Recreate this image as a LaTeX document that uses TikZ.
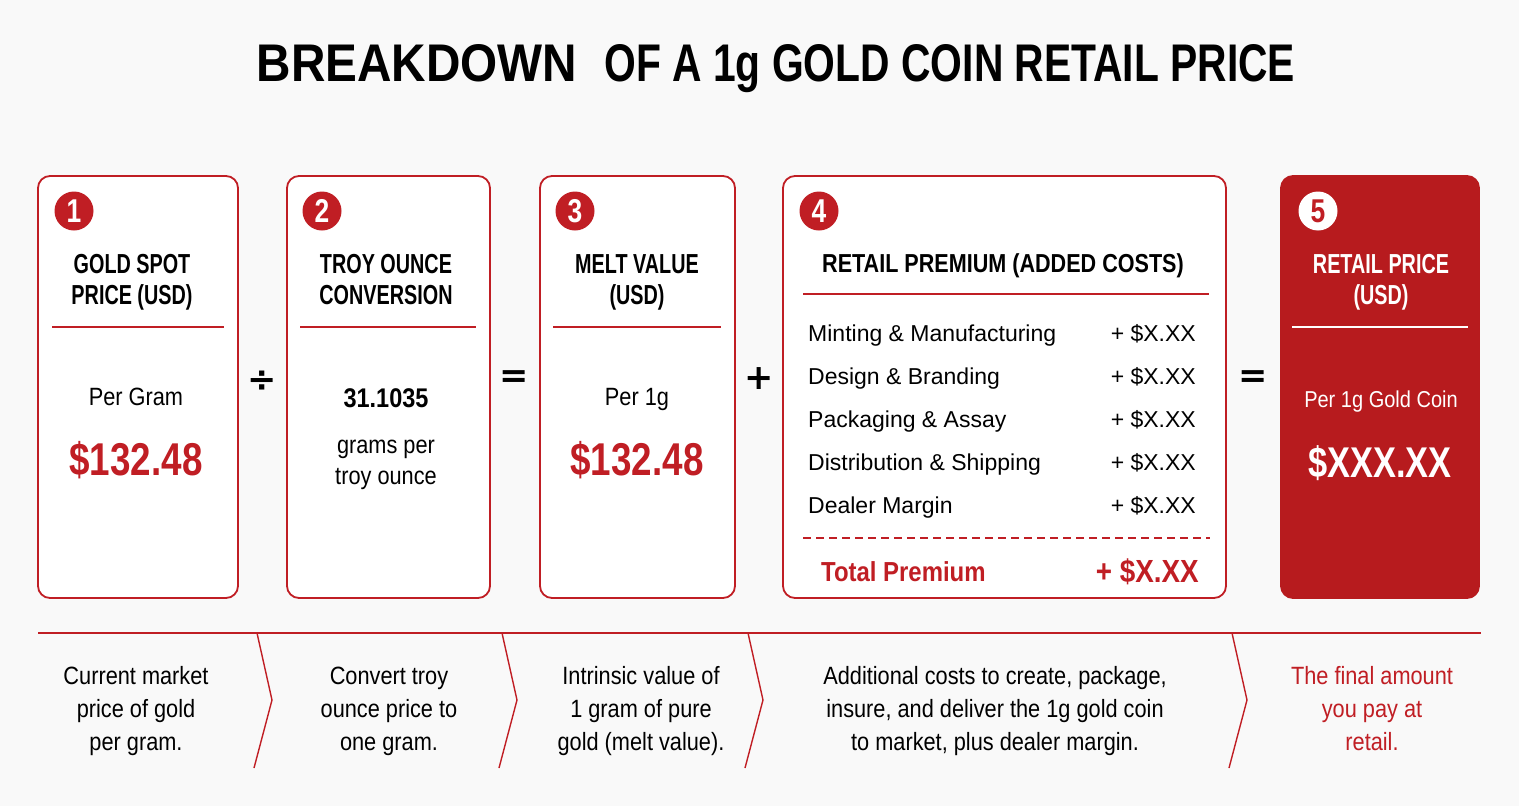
\documentclass[tikz,border=0pt]{standalone}
\usepackage{fontspec}
\setmainfont{Liberation Sans}
\newfontfamily\fT[FakeStretch=0.80]{Liberation Sans}
\newfontfamily\fW[FakeStretch=0.90]{Liberation Sans}
\newfontfamily\fV[FakeStretch=0.77]{Liberation Sans}
\newfontfamily\fU[FakeStretch=0.83]{Liberation Sans}
\newfontfamily\fH[FakeStretch=0.72]{Liberation Sans}
\newfontfamily\fP[FakeStretch=0.80]{Liberation Sans}
\newfontfamily\fB[FakeStretch=0.87]{Liberation Sans}
\newfontfamily\fL{Liberation Sans}
\newfontfamily\fS{DejaVu Sans}
\definecolor{cred}{RGB}{192,30,36}
\definecolor{cfill}{RGB}{183,27,30}
\definecolor{bg}{RGB}{249,249,249}
\begin{document}
\begin{tikzpicture}[x=1pt,y=-1pt,
  card/.style={draw=cred, line width=1.8pt, rounded corners=12pt, fill=white, inner sep=0pt},
  badge/.style={circle, fill=cred, minimum size=39pt, inner sep=0pt, text=white, font=\fT\bfseries\fontsize{33}{33}\selectfont},
  ttl/.style={anchor=base, inner sep=0pt, font=\fH\bfseries\fontsize{27.5}{30}\selectfont},
  body/.style={anchor=base, inner sep=0pt, font=\fB\fontsize{25}{30}\selectfont},
  price/.style={anchor=base, inner sep=0pt, text=cred, font=\fP\bfseries\fontsize{46}{50}\selectfont},
  item/.style={anchor=base west, inner sep=0pt, font=\fL\fontsize{23}{28}\selectfont},
  val/.style={anchor=base east, inner sep=0pt, font=\fL\fontsize{23}{28}\selectfont},
  desc/.style={anchor=base, inner sep=0pt, font=\fB\fontsize{25}{30}\selectfont},
  op/.style={inner sep=0pt, font=\fS\bfseries\fontsize{35}{35}\selectfont},
  sep/.style={cred, line width=1.8pt},
  thin/.style={cred, line width=1.4pt}
]
\fill[bg] (0,0) rectangle (1519,806);

% title
\node[anchor=base, inner sep=0pt, font=\bfseries\fontsize{53}{60}\selectfont] (title) at (776,81)
  {{\fW\bfseries BREAKDOWN}\hspace{27pt}{\fV\bfseries OF A 1g GOLD COIN RETAIL PRICE}};

% cards
\node[card, minimum width=200pt, minimum height=422pt] (c1) at (138,387) {};
\node[card, minimum width=203pt, minimum height=422pt] (c2) at (388.5,387) {};
\node[card, minimum width=195pt, minimum height=422pt] (c3) at (637.5,387) {};
\node[card, minimum width=443pt, minimum height=422pt] (c4) at (1004.5,387) {};
\node[card, fill=cfill, draw=cfill, minimum width=198pt, minimum height=422pt] (c5) at (1380,387) {};

% badges
\node[badge] (b1) at (74,211) {1};
\node[badge] (b2) at (322,211) {2};
\node[badge] (b3) at (575,211) {3};
\node[badge] (b4) at (819,211) {4};
\node[badge, fill=white, text=cred] (b5) at (1318,211) {5};

% card 1
\node[ttl] (t1a) at (132,273) {GOLD SPOT};
\node[ttl] (t1b) at (132,304) {PRICE (USD)};
\draw[sep] (52,327) -- (224,327);
\node[body] (p1) at (136,405) {Per Gram};
\node[price] (v1) at (136,475) {\$132.48};

% card 2
\node[ttl] (t2a) at (386,273) {TROY OUNCE};
\node[ttl] (t2b) at (386,304) {CONVERSION};
\draw[sep] (300,327) -- (476,327);
\node[body, font=\fB\bfseries\fontsize{27}{30}\selectfont] (p2) at (386,407) {31.1035};
\node[body] (g2a) at (386,453) {grams per};
\node[body] (g2b) at (386,484) {troy ounce};

% card 3
\node[ttl] (t3a) at (637,273) {MELT VALUE};
\node[ttl] (t3b) at (637,304) {(USD)};
\draw[sep] (553,327) -- (721,327);
\node[body] (p3) at (637,405) {Per 1g};
\node[price] (v3) at (637,475) {\$132.48};

% card 4
\node[ttl, font=\fU\bfseries\fontsize{26}{30}\selectfont] (t4) at (1003,272) {RETAIL PREMIUM (ADDED COSTS)};
\draw[sep] (803,294) -- (1209,294);
\node[item] (i1) at (808,341) {Minting \& Manufacturing};
\node[item] (i2) at (808,384) {Design \& Branding};
\node[item] (i3) at (808,427) {Packaging \& Assay};
\node[item] (i4) at (808,470) {Distribution \& Shipping};
\node[item] (i5) at (808,513) {Dealer Margin};
\node[val] (x1) at (1196,341) {+ \$X.XX};
\node[val] (x2) at (1196,384) {+ \$X.XX};
\node[val] (x3) at (1196,427) {+ \$X.XX};
\node[val] (x4) at (1196,470) {+ \$X.XX};
\node[val] (x5) at (1196,513) {+ \$X.XX};
\draw[sep, dash pattern=on 8pt off 5pt] (803,538) -- (1210,538);
\node[item, text=cred, font=\fB\bfseries\fontsize{27.5}{30}\selectfont] (tp) at (821,581) {Total Premium};
\node[val, text=cred, font=\fB\bfseries\fontsize{32}{32}\selectfont] (tv) at (1199,582) {+ \$X.XX};

% card 5
\node[ttl, text=white] (t5a) at (1381,273) {RETAIL PRICE};
\node[ttl, text=white] (t5b) at (1381,304) {(USD)};
\draw[white, line width=1.8pt] (1292,327) -- (1468,327);
\node[body, text=white, font=\fB\fontsize{23}{30}\selectfont] (p5) at (1381,407) {Per 1g Gold Coin};
\node[price, text=white, font=\fP\bfseries\fontsize{43}{50}\selectfont] (v5) at (1380,477) {\$XXX.XX};

% operators
\node[op] (o1) at (262,381) {÷};
\node[op] (o2) at (514,379) {=};
\node[op] (o3) at (759,379) {+};
\node[op] (o4) at (1253,379) {=};

% bottom band
\draw[thin] (38,633) -- (1481,633);
\foreach \x in {257,502,748,1232} {
  \draw[thin] (\x,633) -- (\x+15,700) -- (\x-3,768);
}
\node[desc] (d1a) at (136,684) {Current market};
\node[desc] (d1b) at (136,717) {price of gold};
\node[desc] (d1c) at (136,750) {per gram.};
\node[desc] (d2a) at (389,684) {Convert troy};
\node[desc] (d2b) at (389,717) {ounce price to};
\node[desc] (d2c) at (389,750) {one gram.};
\node[desc] (d3a) at (641,684) {Intrinsic value of};
\node[desc] (d3b) at (641,717) {1 gram of pure};
\node[desc] (d3c) at (641,750) {gold (melt value).};
\node[desc] (d4a) at (995,684) {Additional costs to create, package,};
\node[desc] (d4b) at (995,717) {insure, and deliver the 1g gold coin};
\node[desc] (d4c) at (995,750) {to market, plus dealer margin.};
\node[desc, text=cred] (d5a) at (1372,684) {The final amount};
\node[desc, text=cred] (d5b) at (1372,717) {you pay at};
\node[desc, text=cred] (d5c) at (1372,750) {retail.};
\end{tikzpicture}
\end{document}
